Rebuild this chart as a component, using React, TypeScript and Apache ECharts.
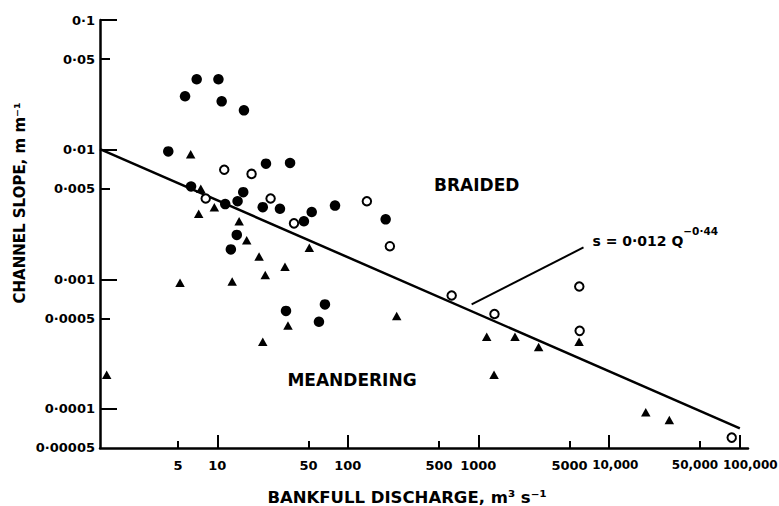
import React, { useEffect, useRef } from 'react';
import * as echarts from 'echarts';

// ---- axis ticks and labels ----
const xMajorTicks = [10, 100, 1000, 10000, 100000];
const xMinorTicks = [5, 50, 500, 5000, 50000];
const xLabelValues = [5, 10, 50, 100, 500, 1000, 5000, 10000, 50000];
const xTickLabels = ['5', '10', '50', '100', '500', '1000', '5000', '10,000', '50,000'];
const xEndLabelValues = [100000];
const xEndTickLabels = ['100,000'];

const yMajorTicks = [0.1, 0.01, 0.001, 0.0001];
const yMinorTicks = [0.05, 0.005, 0.0005];
const yLabelValues = [0.1, 0.05, 0.01, 0.005, 0.001, 0.0005, 0.0001, 0.00005];
const yTickLabels = ['0·1', '0·05', '0·01', '0·005', '0·001', '0·0005', '0·0001', '0·00005'];

const xMin = 1.262;
const xMax = 116600;
const yMin = 0.0000499;
const yMax = 0.1001;

// ---- data: [bankfull discharge Q (m3/s), channel slope S (m/m)] ----
const filledCircles = [
  [6.95, 0.0349], [10.2, 0.0349], [5.66, 0.0258], [10.8, 0.0236], [16.0, 0.0201],
  [4.21, 0.0097], [23.6, 0.0078], [36.1, 0.0079], [6.29, 0.0052], [15.8, 0.0047],
  [11.5, 0.0038], [14.3, 0.0040], [22.3, 0.0036], [30.2, 0.0035], [46.1, 0.0028],
  [52.9, 0.0033], [79.8, 0.0037], [195, 0.0029], [14.1, 0.0022], [12.7, 0.0017],
  [33.6, 0.00057], [66.8, 0.00064], [60.1, 0.00047],
];

const openCircles = [
  [11.3, 0.0070], [18.3, 0.0065], [8.15, 0.0042], [25.6, 0.0042], [38.7, 0.0027],
  [140, 0.0040], [210, 0.0018], [625, 0.00075], [1330, 0.00054], [5940, 0.00088],
  [5980, 0.00040], [87500, 0.000060],
];

const triangles = [
  [6.25, 0.0092], [7.47, 0.0050], [7.2, 0.0032], [9.49, 0.0036], [14.7, 0.0028],
  [16.8, 0.0020], [20.9, 0.0015], [50.7, 0.00175], [23.3, 0.00108], [33.0, 0.00125],
  [5.18, 0.00094], [13.0, 0.00096], [34.8, 0.00044], [22.3, 0.00033], [1.42, 0.000183],
  [237, 0.00052], [1160, 0.00036], [1910, 0.00036], [2900, 0.00030], [5920, 0.00033],
  [1320, 0.000183], [19200, 0.000094], [29100, 0.000082],
];

// regression line s = 0.012 Q^-0.44 (end points as drawn)
const regressionLine = [[1.262, 0.0101], [101000, 0.0000708]];
// leader from equation to line
const leaderLine = [[889, 0.00064], [6400, 0.00176]];

// annotations
const regionLabels = ['BRAIDED', 'MEANDERING'];
const regionLabelPoints = [[973, 0.00532], [107.7, 0.000168]];
const equationMain = 's = 0·012 Q';
const equationExponent = '−0·44';
const equationPoint = [7430, 0.00212];

const FONT = 'DejaVu Sans';

function matchIndex(values: number[], v: number) {
  let best = 0;
  let bd = Infinity;
  values.forEach((t, i) => {
    const d = Math.abs(Math.log10(t) - Math.log10(v));
    if (d < bd) { bd = d; best = i; }
  });
  return best;
}

export default function App() {
  const ref = useRef<HTMLDivElement>(null);

  useEffect(() => {
    if (!ref.current) return;
    const chart = echarts.init(ref.current, null, { renderer: 'svg' });

    const tickStyle = { color: '#000', width: 2 };
    const labelBase = { fontFamily: FONT, fontWeight: 'bold' as const, fontSize: 13, color: '#000' };
    const commaLabel = { ...labelBase, fontSize: 12 };

    const option: any = {
      animation: false,
      backgroundColor: '#fff',
      textStyle: { fontFamily: FONT, fontWeight: 'bold', color: '#000' },
      grid: { left: 100, top: 20, right: 31, bottom: 58, containLabel: false, outerBoundsMode: 'none' },
      xAxis: [
        {
          type: 'log', logBase: 10, min: xMin, max: xMax, position: 'bottom',
          axisLine: { show: true, lineStyle: { color: '#000', width: 2.5 } },
          splitLine: { show: false }, minorTick: { show: false },
          axisTick: { show: true, inside: true, length: 13, customValues: xMajorTicks, lineStyle: tickStyle },
          axisLabel: {
            show: true, ...labelBase, margin: 11, customValues: xLabelValues,
            hideOverlap: false, showMinLabel: true, showMaxLabel: true,
            formatter: (v: number) => {
              const s = xTickLabels[matchIndex(xLabelValues, v)];
              if (s === '10,000') return '{r|' + s + '}';
              if (s === '50,000') return '{l|' + s + '}';
              return s;
            },
            rich: {
              r: { ...commaLabel, padding: [0, 0, 0, 13] },
              l: { ...commaLabel, padding: [0, 10, 0, 0] },
            },
          },
        },
        {
          type: 'log', logBase: 10, min: xMin, max: xMax, position: 'bottom',
          axisLine: { show: false }, splitLine: { show: false },
          axisTick: { show: true, inside: true, length: 7, customValues: xMinorTicks, lineStyle: tickStyle },
          axisLabel: {
            show: true, ...labelBase, margin: 11, customValues: xEndLabelValues,
            hideOverlap: false, showMinLabel: true, showMaxLabel: true,
            formatter: (v: number) => '{r|' + xEndTickLabels[matchIndex(xEndLabelValues, v)] + '}',
            rich: { r: { ...commaLabel, padding: [0, 0, 0, 22] } },
          },
        },
      ],
      yAxis: [
        {
          type: 'log', logBase: 10, min: yMin, max: yMax, position: 'left',
          axisLine: { show: true, lineStyle: { color: '#000', width: 2.5 } },
          splitLine: { show: false }, minorTick: { show: false },
          axisTick: { show: true, inside: true, length: 17, customValues: yMajorTicks, lineStyle: tickStyle },
          axisLabel: {
            show: true, ...labelBase, margin: 5, customValues: yLabelValues,
            hideOverlap: false, showMinLabel: true, showMaxLabel: true,
            formatter: (v: number) => yTickLabels[matchIndex(yLabelValues, v)],
          },
        },
        {
          type: 'log', logBase: 10, min: yMin, max: yMax, position: 'left',
          axisLine: { show: false }, splitLine: { show: false }, axisLabel: { show: false },
          axisTick: { show: true, inside: true, length: 10, customValues: yMinorTicks, lineStyle: tickStyle },
        },
      ],
      series: [
        {
          type: 'line', name: 'Regression', data: regressionLine, symbol: 'none',
          lineStyle: { color: '#000', width: 2.5 }, silent: true, z: 1,
        },
        {
          type: 'line', name: 'Leader', data: leaderLine, symbol: 'none',
          lineStyle: { color: '#000', width: 2 }, silent: true, z: 1,
        },
        {
          type: 'scatter', name: 'Braided', data: filledCircles, symbol: 'circle', symbolSize: 10.5,
          itemStyle: { color: '#000', opacity: 1 }, z: 3,
        },
        {
          type: 'scatter', name: 'Intermediate', data: openCircles, symbol: 'circle', symbolSize: 8.5,
          itemStyle: { color: '#fff', borderColor: '#000', borderWidth: 2, opacity: 1 }, z: 3,
        },
        {
          type: 'scatter', name: 'Meandering', data: triangles, symbol: 'triangle', symbolSize: [9.5, 8.5],
          itemStyle: { color: '#000', opacity: 1 }, z: 3,
        },
        {
          type: 'scatter', name: 'Region labels', silent: true, symbolSize: 1,
          itemStyle: { color: 'rgba(0,0,0,0)', opacity: 1 },
          data: regionLabelPoints.map((p, i) => ({ value: p, name: regionLabels[i] })),
          label: {
            show: true, position: 'inside', formatter: (p: any) => p.name,
            fontFamily: FONT, fontWeight: 'bold', fontSize: 17, color: '#000',
          },
        },
        {
          type: 'scatter', name: 'Equation', silent: true, symbolSize: 1,
          itemStyle: { color: 'rgba(0,0,0,0)', opacity: 1 },
          data: [{ value: equationPoint }],
          label: {
            show: true, position: 'right', distance: 0,
            formatter: () => '{m|' + equationMain + '}{s|' + equationExponent + '}',
            rich: {
              m: { fontFamily: FONT, fontWeight: 'bold', fontSize: 14, color: '#000', lineHeight: 22, verticalAlign: 'bottom' },
              s: { fontFamily: FONT, fontWeight: 'bold', fontSize: 10.5, color: '#000', lineHeight: 10, verticalAlign: 'top' },
            },
          },
        },
      ],
      graphic: [
        {
          type: 'text', x: 20, y: 203, rotation: Math.PI / 2,
          style: {
            text: 'CHANNEL SLOPE, m m⁻¹', align: 'center', verticalAlign: 'middle',
            fontFamily: FONT, fontWeight: 'bold', fontSize: 15, fill: '#000',
          },
        },
        {
          type: 'text', x: 407, y: 497,
          style: {
            text: 'BANKFULL DISCHARGE, m³ s⁻¹', align: 'center', verticalAlign: 'middle',
            fontFamily: FONT, fontWeight: 'bold', fontSize: 16.5, fill: '#000',
          },
        },
      ],
    };

    chart.setOption(option);
    return () => chart.dispose();
  }, []);

  return <div ref={ref} style={{ width: 779, height: 506, position: 'absolute', left: 0, top: 0 }} />;
}
